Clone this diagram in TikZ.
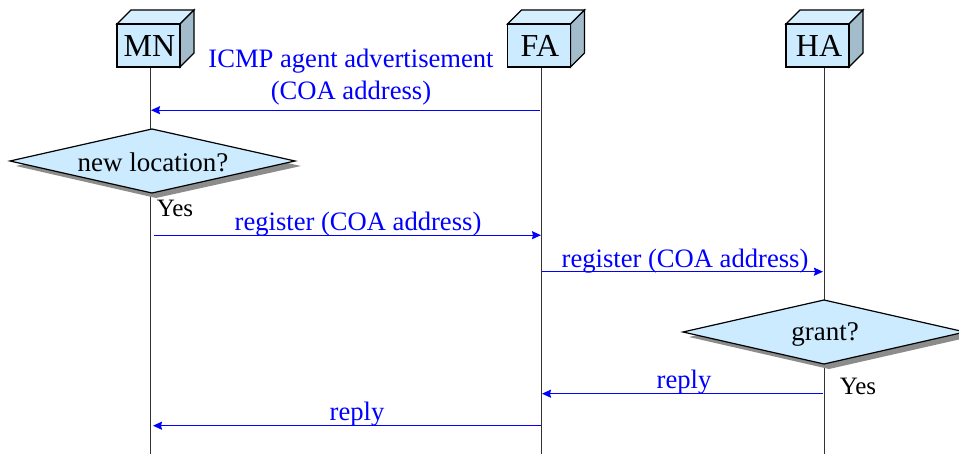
\documentclass[tikz,border=0pt]{standalone}
\usepackage{fontspec}
\setmainfont{Liberation Serif}
\usetikzlibrary{arrows.meta}
\definecolor{boxfill}{HTML}{CCEBFF}
\definecolor{boxtop}{HTML}{D6EFFF}
\definecolor{boxside}{HTML}{A3BCCC}
\definecolor{msgblue}{HTML}{0000FF}
\tikzset{
  x=1pt,y=-1pt,
  frontface/.style={draw=black,line width=1.4pt,fill=boxfill,minimum width=63pt,minimum height=43pt,inner sep=0pt},
  facelabel/.style={font=\fontsize{32}{32}\selectfont,inner sep=0pt},
  lifeline/.style={draw=black!80,line width=1.3pt},
  message/.style={draw=msgblue,line width=1.2pt,-{Stealth[length=9pt,width=8pt,inset=1pt]}},
  msgtext/.style={text=msgblue,font=\fontsize{26.6}{32}\selectfont,align=center,inner sep=0pt},
  decision/.style={draw=black,line width=1.2pt,fill=boxfill},
  dshadow/.style={fill=black!45,draw=none},
  yeslabel/.style={font=\fontsize{25}{25}\selectfont,inner sep=0pt},
  dectext/.style={font=\fontsize{27}{27}\selectfont,inner sep=0pt}
}
\newcommand{\cubeactor}[3]{% name, centre x, label
  \fill[boxtop,draw=black,line width=1.4pt] (#2-31.5,24) -- (#2-17.5,10) -- (#2+45.5,10) -- (#2+31.5,24) -- cycle;
  \fill[boxside,draw=black,line width=1.4pt] (#2+31.5,24) -- (#2+45.5,10) -- (#2+45.5,53) -- (#2+31.5,67) -- cycle;
  \node[frontface] (#1) at (#2,45.5) {};
}
\begin{document}
\begin{tikzpicture}
\useasboundingbox (0,0) rectangle (959,454);
\fill[white] (0,0) rectangle (959,454);
\coordinate (mnEnd) at (150.2,454);
\coordinate (faEnd) at (541.8,454);
\coordinate (haEnd) at (824.2,454);
\coordinate (mnAnchor) at (150.2,67);
\coordinate (faAnchor) at (541.8,67);
\coordinate (haAnchor) at (824.2,67);
\draw[lifeline] (mnAnchor) -- (mnEnd);
\draw[lifeline] (faAnchor) -- (faEnd);
\draw[lifeline] (haAnchor) -- (haEnd);
\cubeactor{mn}{148.5}{MN}
\cubeactor{fa}{539}{FA}
\cubeactor{ha}{817.5}{HA}
\node[facelabel] (mnT) at (149.5,46) {MN};
\node[facelabel] (faT) at (540,46) {FA};
\node[facelabel] (haT) at (819,46) {HA};
% decisions
\fill[dshadow] (16,166) -- (156,134) -- (301,166) -- (156,198) -- cycle;
\draw[decision] (10,161) -- (152,129) -- (295,161) -- (152,193) -- cycle;
\node[dectext] (d1) at (153,162) {new location?};
\fill[dshadow] (689,337) -- (829,305) -- (970,337) -- (829,369) -- cycle;
\draw[decision] (683,332) -- (824,300) -- (965,332) -- (824,364) -- cycle;
\node[dectext] (d2) at (825,334) {grant?};
\node[yeslabel] (y1) at (175,208.5) {Yes};
\node[yeslabel] (y2) at (858,386) {Yes};
% messages
\coordinate (a1) at (540,110.2); \coordinate (b1) at (151,110.2);
\coordinate (a2) at (154,235.2); \coordinate (b2) at (541,235.2);
\coordinate (a3) at (542,271.7); \coordinate (b3) at (823,271.7);
\coordinate (a4) at (823,393.7); \coordinate (b4) at (542,393.7);
\coordinate (a5) at (541,425.7); \coordinate (b5) at (153,425.7);
\draw[message] (a1) -- (b1);
\draw[message] (a2) -- (b2);
\draw[message] (a3) -- (b3);
\draw[message] (a4) -- (b4);
\draw[message] (a5) -- (b5);
\node[msgtext] (t1) at (351,77.5) {ICMP agent advertisement\\(COA address)};
\node[msgtext] (t2) at (358,224) {register (COA address)};
\node[msgtext] (t3) at (685,261) {register (COA address)};
\node[msgtext] (t4) at (684,382) {reply};
\node[msgtext] (t5) at (357,414) {reply};
\end{tikzpicture}
\end{document}
